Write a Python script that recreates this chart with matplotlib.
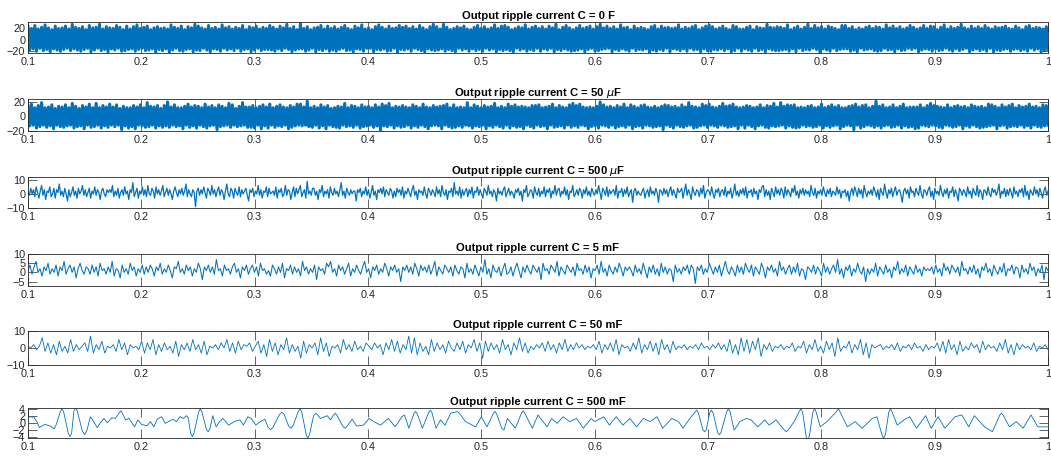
import numpy as np
import matplotlib.pyplot as plt

# ripple current (A), time axis 0.1 .. 1 s
i_0F = np.array("""
22 -18 19 -16 24 -20 18 -15 21 -19 25 -17 20 -21 17 -16 23 -18 19 -20
20 -17 23 -15 18 -19 26 -16 21 -18 19 -20 22 -17 17 -15 24 -21 20 -18
21 -15 26 -19 18 -17 22 -21 20 -16 19 -18 24 -15 21 -20 17 -19 23 -17
18 -16 22 -20 25 -17 19 -15 21 -19 23 -18 17 -16 20 -22 22 -17 19 -19
20 -16 18 -22 25 -18 21 -15 19 -19 23 -20 17 -17 22 -16 20 -21 26 -18
23 -19 20 -15 18 -18 24 -21 19 -16 21 -17 18 -20 25 -15 20 -18 22 -16
18 -19 21 -15 19 -20 24 -17 17 -16 22 -21 20 -18 23 -15 18 -19 21 -17
19 -17 24 -18 21 -20 18 -16 23 -19 20 -15 26 -17 19 -21 22 -18 17 -16
27 -16 19 -20 22 -18 17 -15 20 -21 21 -17 24 -19 18 -16 23 -20 19 -18
22 -20 18 -17 21 -15 24 -19 19 -18 17 -21 23 -16 20 -17 25 -20 18 -15
20 -15 17 -21 22 -17 25 -18 21 -16 18 -20 23 -19 19 -15 20 -22 24 -17
21 -18 23 -16 19 -20 22 -15 18 -17 24 -19 20 -21 17 -16 22 -18 26 -19
22 -18 18 -16 26 -20 21 -17 17 -19 19 -21 22 -15 20 -18 23 -16 18 -20
17 -16 21 -19 24 -17 19 -20 22 -15 18 -18 20 -16 25 -21 19 -17 23 -19
24 -17 21 -19 17 -21 19 -15 22 -18 20 -16 25 -20 18 -17 21 -19 23 -15
19 -20 22 -16 18 -18 23 -15 20 -21 26 -17 17 -19 21 -16 24 -18 20 -20
17 -19 20 -18 24 -16 19 -21 21 -17 23 -15 18 -20 22 -19 26 -17 20 -16
23 -15 19 -21 22 -17 18 -19 25 -16 20 -18 21 -20 17 -15 23 -19 19 -17
21 -18 19 -16 17 -22 22 -18 24 -20 18 -17 23 -19 20 -15 21 -21 19 -16
20 -17 25 -19 18 -16 21 -20 19 -15 22 -18 24 -17 17 -21 20 -16 23 -19
25 -20 22 -17 18 -18 20 -16 23 -19 19 -16 17 -21 24 -19 22 -15 18 -20
18 -16 21 -18 23 -20 17 -15 22 -19 20 -17 19 -21 26 -16 21 -18 20 -19
22 -19 21 -18 19 -17 25 -20 17 -16 20 -21 23 -15 18 -19 21 -17 26 -18
19 -15 24 -17 20 -21 22 -16 18 -18 23 -20 21 -15 19 -19 17 -17 24 -16
24 -16 19 -20 22 -18 17 -21 20 -15 18 -18 21 -17 23 -16 19 -19 22 -20
21 -19 18 -15 25 -18 20 -17 23 -21 19 -16 22 -19 18 -18 20 -15 24 -17
21 -15 18 -21 20 -18 24 -16 19 -17 23 -20 22 -16 17 -19 21 -18 25 -15
18 -18 22 -20 19 -16 21 -19 26 -17 20 -15 18 -21 23 -18 19 -16 22 -19
19 -17 24 -20 20 -15 18 -21 22 -18 20 -19 21 -17 23 -16 19 -20 18 -17
23 -16 20 -19 17 -17 22 -20 24 -15 19 -18 21 -16 20 -21 18 -19 22 -17
""".split(), float)

i_50uF = np.array("""
14 -13 17 -12 12 -16 15 -14 19 -12 12 -15 13 -13 16 -17 11 -12 14 -14
13 -15 16 -13 12 -12 18 -16 14 -14 11 -13 15 -17 13 -12 17 -15 12 -14
18 -12 12 -16 15 -13 13 -15 17 -12 13 -14 16 -12 11 -18 14 -13 12 -16
12 -14 15 -17 13 -12 16 -13 12 -15 19 -14 14 -12 13 -16 15 -13 11 -15
15 -13 20 -15 13 -12 16 -14 12 -13 12 -17 14 -12 17 -15 13 -13 15 -16
14 -12 12 -14 17 -16 13 -13 15 -12 12 -18 16 -14 14 -13 12 -12 18 -15
16 -12 11 -14 14 -13 19 -12 13 -15 13 -15 15 -16 12 -12 14 -17 16 -13
13 -16 17 -12 12 -15 14 -13 16 -14 13 -12 12 -17 15 -15 13 -13 17 -12
17 -13 13 -12 21 -14 12 -15 14 -12 12 -16 16 -13 13 -17 15 -12 11 -14
12 -15 14 -16 13 -12 18 -14 12 -13 15 -15 14 -12 12 -16 16 -14 13 -13
14 -12 12 -15 16 -13 13 -19 17 -13 15 -14 18 -12 12 -16 14 -13 13 -15
15 -14 13 -12 12 -16 16 -13 14 -15 12 -12 17 -14 13 -17 12 -13 15 -12
13 -13 14 -17 15 -12 17 -14 12 -16 16 -15 12 -13 13 -15 12 -12 19 -13
12 -16 16 -13 14 -14 12 -12 15 -17 13 -13 14 -15 18 -12 12 -14 14 -16
12 -12 17 -16 14 -13 16 -15 13 -14 14 -17 13 -12 12 -14 15 -16 15 -12
16 -14 12 -13 13 -17 14 -12 17 -15 12 -14 15 -13 13 -16 12 -12 16 -15
18 -13 15 -15 17 -12 13 -13 12 -17 13 -14 12 -13 14 -16 20 -12 16 -13
13 -15 14 -12 12 -16 15 -14 13 -13 17 -15 12 -12 16 -17 14 -14 12 -13
15 -16 16 -12 13 -13 12 -15 14 -14 12 -13 14 -18 16 -12 15 -14 13 -16
14 -12 12 -14 16 -15 13 -13 19 -12 14 -16 13 -15 12 -13 17 -12 15 -15
17 -12 13 -13 12 -15 14 -12 18 -13 14 -15 15 -14 17 -13 13 -17 12 -12
13 -16 15 -12 14 -14 12 -17 13 -13 16 -12 12 -15 15 -16 14 -13 18 -14
13 -13 19 -12 14 -16 16 -13 15 -15 16 -16 12 -15 13 -12 12 -14 14 -13
15 -15 12 -14 13 -12 17 -16 12 -13 14 -15 16 -13 13 -12 15 -17 12 -14
12 -12 14 -13 15 -18 17 -12 13 -16 15 -14 16 -12 12 -13 14 -15 21 -13
14 -16 16 -13 12 -12 13 -15 16 -14 12 -12 14 -16 17 -13 12 -15 13 -14
13 -17 13 -16 16 -12 12 -13 15 -14 18 -12 15 -13 14 -15 13 -16 12 -12
16 -13 12 -15 14 -14 15 -12 13 -17 14 -13 12 -15 16 -12 14 -14 13 -16
14 -15 12 -14 17 -13 16 -12 14 -17 12 -13 16 -12 13 -16 15 -14 17 -13
12 -14 15 -12 13 -15 14 -13 17 -16 13 -12 14 -14 12 -15 16 -13 15 -12
""".split(), float)

i_500uF = np.array("""
2 -1 4 0 3 -2 5 1 -3 2 6 -1 3 -4 2 1 5 -2 0 4 -3 3 1 7 -1 2 -2 4 0 -5
3 -2 1 5 -1 2 -3 4 0 2 6 -1 3 -2 1 4 -3 2 0 5 -1 3 1 -4 2 4 0 -2 3 1
3 1 6 -2 2 -1 4 -3 1 3 -1 5 0 2 -4 3 1 8 -2 1 4 -3 2 0 5 -1 3 -2 6 0
-1 4 2 -3 5 0 3 -1 2 6 -2 1 4 -1 3 0 -4 2 5 1 -2 3 0 4 -1 2 7 -2 3 0
-2 3 1 -9 2 4 -1 3 0 5 1 -3 4 2 -1 6 0 3 -2 2 5 -1 3 1 -4 2 7 0 -2 4
2 -3 4 1 -1 5 -2 3 0 2 4 -1 -5 3 1 4 -2 2 0 6 -1 3 -3 2 1 5 -2 4 0 1
2 -1 5 -3 3 1 4 -2 0 6 -1 3 2 -4 1 5 -2 4 0 3 6 -2 1 3 -3 9 0 2 -1 4
4 -1 2 -4 3 1 6 -2 2 0 3 -3 5 1 -1 4 0 2 -2 3 8 -1 2 -3 4 1 -1 3 0 2
2 -5 3 1 4 -2 2 0 5 -1 3 -3 1 6 -1 2 -4 3 1 4 0 5 -2 3 1 -1 4 2 -3 2
-2 4 1 3 -1 5 -3 2 0 4 1 -2 3 6 -1 2 -4 3 1 2 -1 5 0 -3 4 2 -1 3 1 -2
5 0 3 -2 6 1 -1 3 -4 2 1 4 -2 8 0 2 -1 5 -3 3 -1 2 4 -2 3 0 5 -3 2 1
5 -1 3 0 -3 4 2 -1 6 0 2 -2 3 1 -5 4 0 2 -1 3 5 -2 1 4 -1 2 0 -3 3 1
4 -1 2 -5 3 1 6 -2 0 3 2 -3 5 1 -1 4 -2 2 0 5 -2 3 1 4 -3 2 0 6 -1 3
4 -2 2 0 5 -1 3 -4 2 1 6 -2 0 3 -1 4 2 -3 3 0 5 -1 2 -2 4 1 -1 3 0 6
1 -4 4 2 -1 5 -2 3 0 2 3 -1 6 -3 2 1 4 -2 3 0 5 -2 1 3 -6 2 4 -1 2 0
-1 2 4 -3 1 3 -2 5 0 2 -1 4 1 -6 3 2 -1 4 0 3 -2 2 5 -1 3 0 -3 4 1 2
4 -3 2 7 -1 3 0 -4 5 1 -1 3 2 -2 4 0 6 -3 1 3 2 -1 5 0 -3 3 1 4 -2 2
3 -1 5 -2 2 0 4 -3 1 7 -1 2 -2 3 0 4 -1 5 -3 2 1 3 -2 4 0 2 -4 3 1 5
6 -2 3 -1 2 -4 4 1 -2 5 0 3 -1 4 2 -3 5 -1 3 1 -2 4 1 6 -1 2 -3 3 0 4
-1 3 0 2 -2 6 1 -1 4 -3 2 0 3 -1 5 1 -2 3 0 4 -2 2 1 -1 5 0 3 -3 2 1
3 -2 2 -5 1 4 -1 5 2 -2 4 0 3 -3 6 1 -2 2 0 3 -1 5 2 -2 3 -4 4 1 -1 7
1 -3 3 0 4 -2 2 5 -1 2 3 -1 -6 2 4 0 3 -3 5 1 2 -2 4 1 -1 6 0 -3 3 2
-1 3 5 -2 2 -4 4 0 2 -1 6 1 -2 3 0 4 -3 2 1 5 -2 3 0 -5 4 2 -1 3 1 -2
5 0 2 -3 4 1 -1 6 -2 3 1 -4 3 2 -1 5 0 -2 4 1 3 -1 2 7 -3 2 0 4 -2 3
-1 4 1 -3 5 0 2 -2 3 1 4 -2 6 -1 2 -4 3 1 -1 5 0 3 -2 4 1 -3 2 5 -1 2
""".split(), float)

i_5mF = np.array("""
1 4 -1 3 6 0 2 -2 3 1 5 -1 2 0 4 -2 3 1 6 -1 2 4 0 3 -3 2 5 1 -1 3
2 -1 4 0 3 -2 5 1 2 -1 3 0 6 -2 2 1 -3 4 0 2 -1 5 1 3 -2 2 0 4 -1 3
0 4 2 -2 3 1 5 -1 2 0 4 1 -3 3 2 6 0 2 -1 4 1 3 -2 2 0 5 2 -4 3 1
4 0 3 -1 7 1 2 -2 4 1 2 -1 3 5 0 2 -3 3 1 4 -1 2 4 0 3 -2 5 1 2 -1
1 -2 4 2 -1 3 0 5 -3 2 1 4 -1 3 0 2 -2 6 1 3 -1 2 0 4 -4 3 1 2 -1 5
3 6 0 2 -2 4 1 3 -1 2 5 -2 2 0 4 1 -1 3 6 0 2 -3 3 1 4 -1 2 0 5 2
-2 3 1 4 0 2 -5 3 1 4 0 3 -1 5 2 -2 4 1 3 0 4 -1 2 6 -2 3 1 -1 4 2
0 3 -2 4 1 -1 3 2 -3 5 0 2 -1 4 1 -2 3 0 7 -1 2 -3 4 1 0 3 -2 2 5 -1
0 3 -2 2 5 1 -3 3 0 4 1 -1 4 2 0 3 -4 5 1 2 -1 4 2 0 6 -2 3 1 -1 4
2 0 3 -2 5 1 2 -1 4 0 3 -3 2 1 4 -1 6 0 2 -2 4 1 -1 3 0 5 2 -2 3 1
3 1 -2 4 0 2 -1 5 1 -3 3 0 4 -1 2 -2 5 0 3 -1 2 1 -5 4 0 2 -1 3 1 4
-1 4 2 -6 3 1 4 -1 2 0 5 2 -1 3 0 4 -2 2 6 1 -1 3 1 -2 4 0 3 -1 5 2
0 4 -2 3 1 -1 5 2 -3 3 1 4 0 2 -2 6 1 3 -1 2 4 -1 3 0 5 -2 2 1 -4 3
2 0 4 -1 3 1 -2 5 0 3 -1 2 4 0 7 -1 2 -3 3 1 4 -2 2 0 5 1 -1 3 -5 2
-1 2 0 5 -2 3 1 -1 4 0 2 -3 3 1 6 -1 2 0 4 -2 3 1 -1 4 0 2 -2 3 1 2
1 3 -1 4 0 2 -2 5 1 3 -1 4 2 0 3 -2 6 1 2 -1 3 0 4 -1 2 -3 3 1 5 0
2 -2 4 1 -1 3 0 5 -2 2 1 4 -1 3 2 -3 4 0 2 -1 5 1 3 -2 2 0 4 -4 3 1
""".split(), float)

i_50mF = np.array("""
1 0 2 -1 1 6 -2 3 -3 2 -4 4 -2 1 -3 5 -2 2 -1 1 3 -2 7 -3 2 -1 4 -3 1 0
2 -2 5 -1 3 -4 2 0 1 -1 4 -3 3 -1 5 -4 2 -2 3 -1 1 -3 4 -5 2 -1 3 -2 5 -1
2 -3 4 -4 1 0 2 -1 3 0 5 -2 3 -3 4 -1 2 1 3 -2 1 4 -3 2 -5 5 -2 3 -4 2
-1 6 -3 2 -2 1 -6 4 -3 2 0 3 -4 6 -2 3 -5 1 0 2 -3 5 -1 2 -2 4 -1 1 -2 3
1 -1 3 0 2 -4 3 -1 5 -2 4 -3 2 -1 7 -3 6 -4 3 -2 1 -4 5 -2 3 -1 2 -3 4 0
-2 3 -1 4 -3 2 0 5 -2 3 -6 4 -2 3 -1 2 -3 5 -1 2 -4 3 -1 6 -2 3 -3 1 -1 2
0 3 -2 4 -1 2 -3 3 -1 5 -2 2 -1 3 0 2 -1 1 0 2 -1 4 -3 2 -1 3 -2 5 -4 2
0 1 -2 3 -1 6 -3 2 -1 4 -2 3 -4 5 -1 2 -3 4 -1 1 0 2 -1 1 0 2 -1 3 0 1
-1 2 0 3 -1 2 -2 5 -3 2 -4 6 -2 5 -3 4 -1 6 -5 2 -1 3 -2 1 0 2 -1 1 0 3
-2 1 0 4 -3 2 -1 5 -2 1 -3 4 -1 3 -5 6 -2 1 0 4 -3 2 -1 5 -4 3 -6 2 0 1
2 -1 1 0 2 -1 3 -2 1 0 2 -1 3 0 1 -2 2 -1 1 0 3 -2 4 -3 5 -1 2 -4 4 -2
1 -1 3 0 2 -3 4 -1 2 0 1 -2 3 -1 5 -3 2 -4 3 -1 2 0 1 -1 3 -2 1 0 2 -1
""".split(), float)

# 500 mF trace: (time, current) pairs
pts_500mF = np.array("""
0.100 1.7  0.105 1.6  0.108 0.2  0.110 -1.4  0.112 -1.0  0.115 -0.5  0.118 -0.8
0.120 -1.0  0.123 -1.8  0.125 -0.5  0.1285 3.2  0.130 4.0  0.1315 3.0  0.1355 -3.0
0.137 -4.0  0.1385 -3.0  0.1405 3.3  0.142 4.3  0.1435 3.3  0.148 -2.5  0.150 -3.4
0.152 -2.2  0.155 1.7  0.157 0.8  0.161 -1.4  0.164 0.0  0.167 1.2  0.170 0.0
0.174 1.4  0.177 1.2  0.1805 2.8  0.182 3.4  0.1835 2.6  0.186 0.8  0.189 1.2
0.194 -1.2  0.197 0.8  0.200 -0.5  0.205 -0.9  0.208 0.3  0.211 -1.2  0.214 1.0
0.218 1.7  0.221 -0.2  0.224 0.3  0.228 1.0  0.231 0.3  0.234 1.7  0.237 1.2
0.240 2.0  0.2415 1.2  0.2435 -3.0  0.245 -4.0  0.2465 -3.0  0.2505 3.0  0.252 4.0
0.2535 3.0  0.2575 -2.0  0.259 -2.6  0.2605 -1.8  0.263 2.0  0.266 -1.2  0.269 0.3
0.272 1.2  0.277 -0.7  0.282 0.3  0.287 0.8  0.290 -0.7  0.294 1.7  0.297 1.2
0.301 -0.7  0.305 0.3  0.309 1.0  0.312 -1.4  0.314 -2.0  0.316 -1.4  0.322 2.4
0.324 3.0  0.326 2.4  0.330 -1.0  0.332 -1.6  0.334 -0.8  0.3385 3.2  0.340 4.0
0.3415 3.0  0.3455 -3.4  0.347 -4.5  0.3485 -3.2  0.352 2.0  0.354 2.7  0.356 2.0
0.358 1.2  0.364 2.0  0.367 0.8  0.3695 2.2  0.371 2.7  0.3725 2.2  0.378 -1.2
0.380 -1.6  0.383 -0.4  0.386 1.0  0.390 -1.0  0.396 -0.7  0.401 1.2  0.405 0.3
0.411 -0.7  0.418 1.2  0.424 -1.2  0.430 1.7  0.432 2.2  0.434 0.5  0.436 -1.6
0.4405 2.6  0.442 3.2  0.4435 2.5  0.448 -1.6  0.4535 2.9  0.455 3.6  0.4565 2.8
0.460 -1.6  0.464 0.8  0.468 -0.7  0.473 2.7  0.479 3.2  0.481 2.5  0.486 0.3
0.495 -1.2  0.500 1.7  0.505 -1.2  0.5105 2.6  0.512 3.2  0.5135 2.5  0.518 -1.6
0.520 -2.1  0.523 1.2  0.530 -1.6  0.5355 2.8  0.537 3.4  0.5385 2.6  0.545 -1.6
0.550 2.2  0.558 -1.2  0.562 1.2  0.567 -0.2  0.572 1.7  0.578 0.3  0.584 1.2
0.590 -1.6  0.597 1.2  0.600 0.3  0.608 1.7  0.613 -0.7  0.619 1.7  0.625 -0.7
0.631 1.2  0.637 -1.2  0.643 1.2  0.649 0.3  0.655 1.7  0.660 -1.6  0.668 1.2
0.674 0.3  0.678 -1.6  0.684 1.2  0.6885 3.0  0.690 3.6  0.6915 2.8  0.6955 -2.0
0.697 -2.6  0.6985 -2.0  0.7015 2.8  0.703 3.6  0.7045 2.8  0.7085 -2.8  0.710 -3.5
0.7115 -2.8  0.7165 3.2  0.718 4.0  0.7195 3.1  0.723 -2.1  0.726 -0.8  0.728 0.3
0.734 1.2  0.738 0.8  0.744 -1.2  0.750 0.8  0.754 -0.7  0.760 0.8  0.767 -2.0
0.769 -2.6  0.771 -2.0  0.776 0.3  0.7805 3.2  0.782 4.0  0.7835 3.0  0.7865 -3.8
0.788 -5.0  0.7895 -3.8  0.7925 3.0  0.794 4.0  0.7955 3.0  0.799 -1.2  0.805 0.3
0.8135 3.2  0.815 4.0  0.8165 3.1  0.823 -1.2  0.830 0.3  0.836 -1.6  0.845 1.2
0.849 1.7  0.8535 -3.5  0.855 -4.5  0.8565 -3.4  0.8595 3.0  0.861 4.0  0.8625 3.0
0.867 -0.7  0.873 0.8  0.878 1.7  0.884 -1.6  0.892 2.0  0.897 -1.6  0.903 1.7
0.909 -1.6  0.918 1.7  0.924 2.2  0.930 -1.2  0.935 2.0  0.944 -1.2  0.951 -2.6
0.9575 2.2  0.959 2.7  0.9605 2.1  0.966 -1.2  0.972 0.3  0.978 -1.6  0.985 2.2
0.991 -1.2  0.998 -1.2  1.000 -1.2
""".split(), float).reshape(-1, 2)
t_500mF = pts_500mF[:, 0]
i_500mF = pts_500mF[:, 1]

titles = ['Output ripple current C = 0 F',
          'Output ripple current C = 50 $\\mu$F',
          'Output ripple current C = 500 $\\mu$F',
          'Output ripple current C = 5 mF',
          'Output ripple current C = 50 mF',
          'Output ripple current C = 500 mF']
yticks = [[-20, 0, 20], [-20, 0, 20], [-10, 0, 10], [-5, 0, 5, 10],
          [-10, 0, 10], [-4, -2, 0, 2, 4]]
xticks = [0.1, 0.2, 0.3, 0.4, 0.5, 0.6, 0.7, 0.8, 0.9, 1.0]
xlabels = ['0.1', '0.2', '0.3', '0.4', '0.5', '0.6', '0.7', '0.8', '0.9', '1']

series = [
    (np.linspace(0.1, 1, len(i_0F)), i_0F),
    (np.linspace(0.1, 1, len(i_50uF)), i_50uF),
    (np.linspace(0.1, 1, len(i_500uF)), i_500uF),
    (np.linspace(0.1, 1, len(i_5mF)), i_5mF),
    (np.linspace(0.1, 1, len(i_50mF)), i_50mF),
    (t_500mF, i_500mF),
]

# layout (pixels of the 1051x458 image)
W, H = 1051, 458
rows = [(22, 53), (99, 131), (177, 208), (254, 286), (331, 365), (408, 438)]
ylims = [(-23, 30), (-20, 24), (-10, 12), (-7.4, 10), (-10, 10), (-4.4, 4.2)]
widths = [2.2, 2.2, 0.9, 0.75, 0.6, 0.6]

plt.rcParams['font.family'] = ['Liberation Sans', 'DejaVu Sans']
fig = plt.figure(figsize=(W / 100, H / 100), dpi=100)
fc = '#262626'

for k in range(6):
    top, bot = rows[k]
    ax = fig.add_axes([28 / W, 1 - bot / H, (1048 - 28) / W, (bot - top) / H])
    x, y = series[k]
    ax.plot(x, y, color='#0072BD', lw=widths[k], solid_joinstyle='round')
    ax.set_xlim(0.1, 1)
    ax.set_ylim(*ylims[k])
    ax.set_xticks(xticks)
    ax.set_xticklabels(xlabels)
    ax.set_yticks(yticks[k])
    ax.tick_params(direction='in', top=True, right=True, length=6.5, width=0.5,
                   labelsize=7.8, colors=fc)
    ax.tick_params(axis='x', pad=3)
    ax.tick_params(axis='y', pad=2)
    for s in ax.spines.values():
        s.set_color(fc)
        s.set_linewidth(0.6)
    ax.set_title(titles[k], fontsize=8.1, fontweight='bold', pad=2.5)

fig.savefig('out.png', dpi=100)
